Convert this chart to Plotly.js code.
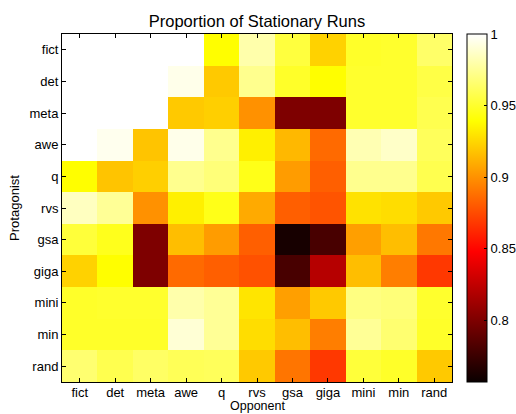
<!DOCTYPE html>
<html>
<head>
<meta charset="utf-8">
<script src="https://cdn.plot.ly/plotly-3.0.1.min.js"></script>
<style>html,body{margin:0;padding:0;background:#fff;}</style>
</head>
<body>
<div id="chart" style="width:516px;height:414px;"></div>
<script>
const opponents = ["fict","det","meta","awe","q","rvs","gsa","giga","mini","min","rand"];
const protagonists = ["fict","det","meta","awe","q","rvs","gsa","giga","mini","min","rand"];

const rowFict  = [1.000,1.000,1.000,1.000,0.939,0.980,0.954,0.923,0.949,0.950,0.964];
const rowDet   = [1.000,1.000,1.000,0.995,0.920,0.973,0.949,0.939,0.950,0.950,0.956];
const rowMeta  = [1.000,1.000,1.000,0.920,0.922,0.900,0.800,0.800,0.950,0.950,0.958];
const rowAwe   = [1.000,0.996,0.918,0.995,0.973,0.934,0.914,0.886,0.982,0.987,0.961];
const rowQ     = [0.939,0.918,0.922,0.973,0.968,0.945,0.904,0.882,0.973,0.973,0.958];
const rowRvs   = [0.985,0.975,0.900,0.934,0.945,0.909,0.882,0.878,0.929,0.927,0.920];
const rowGsa   = [0.953,0.946,0.800,0.916,0.904,0.882,0.762,0.780,0.905,0.916,0.891];
const rowGiga  = [0.923,0.939,0.800,0.886,0.882,0.877,0.780,0.821,0.916,0.893,0.868];
const rowMini  = [0.949,0.950,0.950,0.980,0.975,0.930,0.905,0.920,0.970,0.968,0.950];
const rowMin   = [0.949,0.949,0.949,0.990,0.975,0.927,0.916,0.893,0.975,0.966,0.949];
const rowRand  = [0.966,0.958,0.963,0.960,0.961,0.920,0.890,0.868,0.953,0.949,0.920];

const colorbarTicks = [0.8,0.85,0.9,0.95,1];

const z = [rowFict,rowDet,rowMeta,rowAwe,rowQ,rowRvs,rowGsa,rowGiga,rowMini,rowMin,rowRand];

const hot = [
  [0,'rgb(10,0,0)'],
  [0.375,'rgb(255,0,0)'],
  [0.75,'rgb(255,255,0)'],
  [1,'rgb(255,255,255)']
];

const font = {family:'"Liberation Sans", Arial, sans-serif', color:'#000'};

const data = [{
  type:'heatmap',
  x: opponents,
  y: protagonists,
  z: z,
  zmin: 0.757,
  zmax: 1.0,
  colorscale: hot,
  xgap:0, ygap:0,
  colorbar:{
    x: 467/516, xanchor:'left', xref:'container',
    y: 0.5, yanchor:'middle', len:1, lenmode:'fraction',
    thickness:20, outlinewidth:1, outlinecolor:'#000',
    tickvals: colorbarTicks, ticktext: colorbarTicks.map(String),
    ticks:'inside', ticklen:3, tickcolor:'#000',
    tickfont:Object.assign({size:13}, font),
    ypad:0, xpad:0
  },
  hoverinfo:'skip'
}];

const layout = {
  width:516, height:414,
  margin:{l:62, r:64, t:34, b:32},
  paper_bgcolor:'#fff', plot_bgcolor:'#fff',
  title:{text:'Proportion of Stationary Runs', x:0.5, xref:'paper', xanchor:'center', y:0.962, yref:'container', font:Object.assign({size:16.5}, font)},
  annotations:[{
    text:'Opponent', xref:'paper', yref:'paper', x:0.5, y:-32/348,
    xanchor:'center', yanchor:'bottom', yshift:0, borderpad:0, showarrow:false,
    font:Object.assign({size:12.5}, font)
  }],
  xaxis:{
    type:'category', categoryorder:'array', categoryarray:opponents,
    tickfont:Object.assign({size:13}, font),
    ticks:'inside', ticklen:4, tickcolor:'#000', tickwidth:1,
    ticklabelstandoff:-2,
    showline:true, linecolor:'#000', linewidth:1, mirror:'ticks',
    showgrid:false, zeroline:false, automargin:false
  },
  yaxis:{
    type:'category', categoryorder:'array', categoryarray:protagonists,
    autorange:'reversed',
    title:{text:'Protagonist', font:Object.assign({size:13}, font), standoff:6},
    tickfont:Object.assign({size:13}, font),
    ticks:'inside', ticklen:4, tickcolor:'#000', tickwidth:1,
    showline:true, linecolor:'#000', linewidth:1, mirror:'ticks',
    showgrid:false, zeroline:false, automargin:false
  }
};

Plotly.newPlot('chart', data, layout, {displayModeBar:false, staticPlot:true});
</script>
</body>
</html>
